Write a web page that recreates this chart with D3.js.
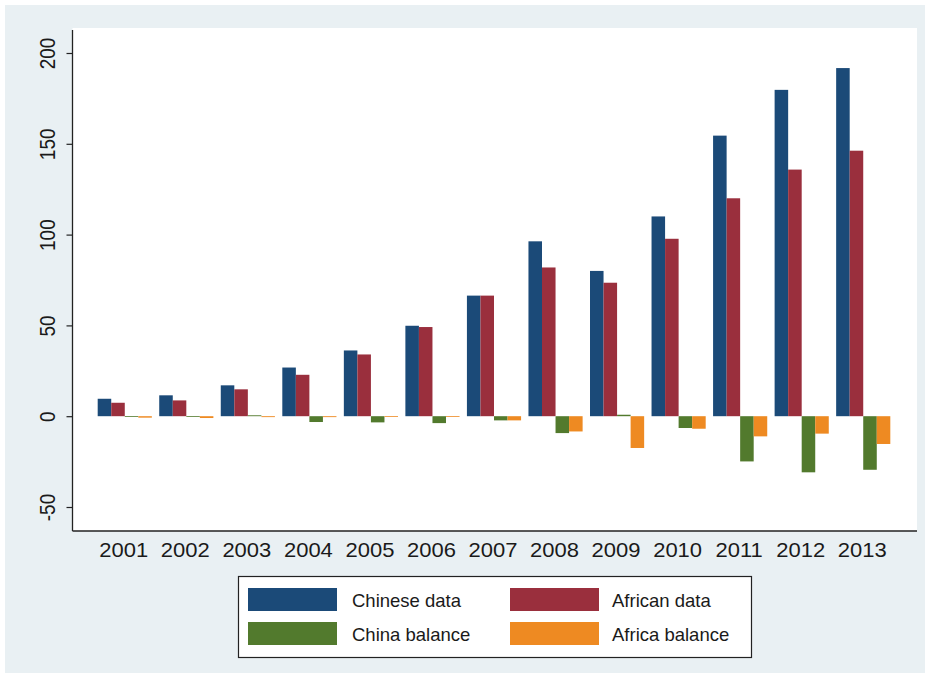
<!DOCTYPE html>
<html>
<head>
<meta charset="utf-8">
<script src="https://cdn.jsdelivr.net/npm/d3@7/dist/d3.min.js"></script>
<style>
  html, body { margin: 0; padding: 0; background: #ffffff; }
  svg { display: block; }
  text { font-family: "Liberation Sans", Arial, Helvetica, sans-serif; fill: #1a1a1a; }
</style>
</head>
<body>
<svg id="chart" width="931" height="681"></svg>
<script>
const years = ["2001","2002","2003","2004","2005","2006","2007","2008","2009","2010","2011","2012","2013"];
const chineseData  = [9.6, 11.5, 17.0, 26.8, 36.2, 49.8, 66.4, 96.3, 80.0, 110.0, 154.5, 179.7, 191.7];
const africanData  = [7.4, 8.7, 14.8, 22.8, 34.0, 49.1, 66.4, 81.9, 73.5, 97.7, 120.0, 135.8, 146.2];
const chinaBalance = [-0.3, -0.3, 0.5, -3.2, -3.4, -3.8, -2.3, -9.3, 0.8, -6.5, -24.9, -30.9, -29.5];
const africaBalance= [-0.8, -1.0, -0.5, -0.5, -0.3, -0.3, -2.3, -8.4, -17.5, -6.9, -11.1, -9.6, -15.3];
const seriesNames  = ["Chinese data", "African data", "China balance", "Africa balance"];
const yTicks = [-50, 0, 50, 100, 150, 200];
const yTickLabels = ["-50", "0", "50", "100", "150", "200"];

const seriesValues = [chineseData, africanData, chinaBalance, africaBalance];
const colors = ["#1b4a78", "#9a2f3d", "#527a2d", "#ee8a22"];

const svg = d3.select("#chart");

// outer graph region
svg.append("rect").attr("x", 5).attr("y", 5).attr("width", 920).attr("height", 668).attr("fill", "#e9f0f3");

// plot region
const plot = {left: 72.5, right: 917, top: 28, bottom: 531};
svg.append("rect").attr("x", plot.left).attr("y", plot.top)
  .attr("width", plot.right - plot.left).attr("height", plot.bottom - plot.top).attr("fill", "#ffffff");

const y = d3.scaleLinear().domain([-50, 200]).range([507, 53]);
const x0 = d3.scaleBand().domain(years).range([94, 894]).paddingInner(0.12).paddingOuter(0.06);
const x1 = d3.scaleBand().domain(d3.range(4)).range([0, x0.bandwidth()]).padding(0);

// bars
const table = years.map((yr, i) => ({year: yr, vals: seriesValues.map(s => s[i])}));
const groups = svg.append("g").selectAll("g").data(table).join("g")
  .attr("transform", d => `translate(${x0(d.year)},0)`);
groups.selectAll("rect").data(d => d.vals.map((v, k) => ({k, v}))).join("rect")
  .attr("x", d => x1(d.k))
  .attr("width", x1.bandwidth())
  .attr("y", d => y(Math.max(0, d.v)))
  .attr("height", d => Math.max(0.8, Math.abs(y(d.v) - y(0))))
  .attr("fill", d => colors[d.k]);

// y axis
const yAxis = d3.axisLeft(y).tickValues(yTicks).tickSize(6)
  .tickFormat(d => yTickLabels[yTicks.indexOf(d)]);
const gy = svg.append("g").attr("transform", `translate(${plot.left},0)`).call(yAxis);
gy.select(".domain").remove();
gy.selectAll(".tick line").attr("stroke", "#222").attr("stroke-width", 1.2);
gy.selectAll(".tick text")
  .attr("x", null).attr("dy", null)
  .attr("text-anchor", "middle")
  .attr("transform", "translate(-18,0) scale(1.15,1) rotate(-90)")
  .style("font-size", "19px")
  .attr("fill", "#1a1a1a");
svg.append("line").attr("x1", plot.left).attr("x2", plot.left).attr("y1", plot.top + 2).attr("y2", plot.bottom)
  .attr("stroke", "#222").attr("stroke-width", 1.3);

// x axis
const xAxis = d3.axisBottom(x0).tickSize(0).tickPadding(0);
const gx = svg.append("g").attr("transform", `translate(0,${plot.bottom})`).call(xAxis);
gx.select(".domain").remove();
gx.selectAll(".tick text")
  .attr("y", null).attr("dy", null)
  .attr("transform", "translate(-1,26) scale(1.1,1)")
  .style("font-size", "20px")
  .attr("fill", "#1a1a1a");
svg.append("line").attr("x1", plot.left).attr("x2", plot.right).attr("y1", plot.bottom).attr("y2", plot.bottom)
  .attr("stroke", "#222").attr("stroke-width", 1.3);

// legend
const lg = svg.append("g");
lg.append("rect").attr("x", 238.5).attr("y", 576.5).attr("width", 513).attr("height", 81)
  .attr("fill", "#ffffff").attr("stroke", "#222").attr("stroke-width", 1.2);
const legendPos = [
  {kx: 248, ky: 588, tx: 352, ty: 607},
  {kx: 510, ky: 588, tx: 612, ty: 607},
  {kx: 248, ky: 622, tx: 352, ty: 641},
  {kx: 510, ky: 622, tx: 612, ty: 641}
];
seriesNames.forEach((name, k) => {
  const p = legendPos[k];
  lg.append("rect").attr("x", p.kx).attr("y", p.ky).attr("width", 89).attr("height", 23).attr("fill", colors[k]);
  lg.append("text").attr("x", p.tx).attr("y", p.ty).style("font-size", "18.5px").text(name);
});
</script>
</body>
</html>
